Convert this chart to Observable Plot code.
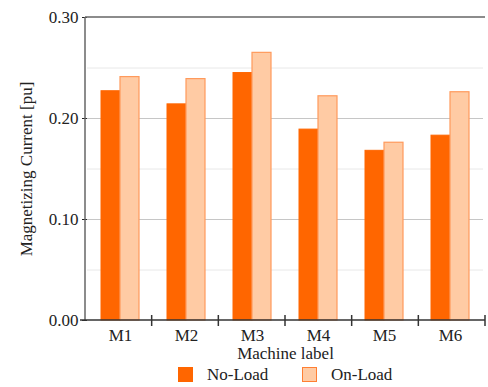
<!DOCTYPE html>
<html>
<head>
<meta charset="utf-8">
<script src="https://cdn.jsdelivr.net/npm/d3@7"></script>
<script src="https://cdn.jsdelivr.net/npm/@observablehq/plot@0.6"></script>
<style>
  body { margin: 0; background: white; font-family: "Liberation Serif", "Times New Roman", serif; }
  #chart { width: 488px; }
  #chart svg text { font-family: "Liberation Serif", "Times New Roman", serif; font-size: 17px; fill: #222; }
  .legend { position: relative; height: 25px; font-size: 17px; color: #222; }
  .legend .item { position: absolute; top: 5px; display: flex; align-items: center; line-height: 15px; }
  .legend .sw { width: 15px; height: 15px; box-sizing: border-box; margin-right: 14px; }
</style>
</head>
<body>
<div id="chart"></div>
<script>
const machines = ["M1", "M2", "M3", "M4", "M5", "M6"];
const series = ["No-Load", "On-Load"];
const noLoad = [0.227, 0.214, 0.245, 0.189, 0.168, 0.183];
const onLoad = [0.241, 0.239, 0.265, 0.222, 0.176, 0.226];
const yTicks = [0, 0.1, 0.2, 0.3];
const gridMajor = [0.1, 0.2];
const gridMinor = [0.05, 0.15, 0.25];
const fills = ["#FF6600", "#FFCBA4"];
const strokes = ["#FF6600", "#FF9A5C"];
const yLabel = "Magnetizing Current [pu]";

const data = machines.flatMap((m, i) => [
  {machine: m, series: series[0], value: noLoad[i]},
  {machine: m, series: series[1], value: onLoad[i]}
]);

const chart = Plot.plot({
  width: 488,
  height: 362,
  marginLeft: 85,
  marginRight: 3,
  marginTop: 17,
  marginBottom: 42,
  style: {fontFamily: "'Liberation Serif', 'Times New Roman', serif", fontSize: "17px", color: "#222", background: "white"},
  facet: {data, x: "machine"},
  fx: {domain: machines, padding: 0, label: "Machine label", labelAnchor: "center", labelOffset: 38, tickSize: 0, tickPadding: 8},
  x: {domain: series, paddingInner: 0, paddingOuter: 0.667, axis: null},
  y: {domain: [0, 0.3], ticks: yTicks, tickFormat: d => d.toFixed(2), tickSize: 5, tickPadding: 4,
      label: yLabel, labelAnchor: "center", labelOffset: 68, labelArrow: false},
  marks: [
    Plot.ruleY(gridMinor, {stroke: "#e8e8e8", strokeWidth: 1}),
    Plot.ruleY(gridMajor, {stroke: "#c6c6c6", strokeWidth: 1}),
    Plot.barY(data, {filter: d => d.series === series[0], x: "series", y: "value", fill: fills[0], stroke: strokes[0], strokeWidth: 1}),
    Plot.barY(data, {filter: d => d.series === series[1], x: "series", y: "value", fill: fills[1], stroke: strokes[1], strokeWidth: 1.2})
  ]
});

const svgEl = chart.tagName.toLowerCase() === "svg" ? chart : chart.querySelector("svg");
const svg = d3.select(svgEl);
// strip any label arrow
svg.selectAll("text").each(function() {
  if (this.textContent.includes(yLabel)) this.textContent = yLabel;
});

// axis lines and category boundary ticks, positioned from the plot's own scales
const fxs = chart.scale("fx");
const ys = chart.scale("y");
const fx = d3.scaleBand().domain(fxs.domain).range(fxs.range).padding(0);
const y = d3.scaleLinear().domain(ys.domain).range(ys.range);
const g = svg.append("g");
const x0 = fxs.range[0], x1 = fxs.range[1];
g.append("line").attr("x1", x0).attr("x2", x1).attr("y1", y(0.3)).attr("y2", y(0.3)).attr("stroke", "#666").attr("stroke-width", 1.5);
g.append("line").attr("x1", x0).attr("x2", x0).attr("y1", y(0.3)).attr("y2", y(0)).attr("stroke", "#666").attr("stroke-width", 1.5);
g.append("line").attr("x1", x0 - 5).attr("x2", x1).attr("y1", y(0)).attr("y2", y(0)).attr("stroke", "#333").attr("stroke-width", 1.5);
machines.forEach(m => {
  const xe = fx(m) + fx.bandwidth();
  g.append("line").attr("x1", xe).attr("x2", xe).attr("y1", y(0) - 5).attr("y2", y(0) + 6).attr("stroke", "#333").attr("stroke-width", 1.5);
});

document.getElementById("chart").appendChild(chart);

// legend
const legend = document.createElement("div");
legend.className = "legend";
const lx = [178, 302];
series.forEach((s, i) => {
  const item = document.createElement("div");
  item.className = "item";
  item.style.left = lx[i] + "px";
  const sw = document.createElement("span");
  sw.className = "sw";
  sw.style.background = fills[i];
  sw.style.border = `1.5px solid ${i === 0 ? fills[0] : "#FF7F33"}`;
  const t = document.createElement("span");
  t.textContent = s;
  item.appendChild(sw);
  item.appendChild(t);
  legend.appendChild(item);
});
document.getElementById("chart").appendChild(legend);
</script>
</body>
</html>
